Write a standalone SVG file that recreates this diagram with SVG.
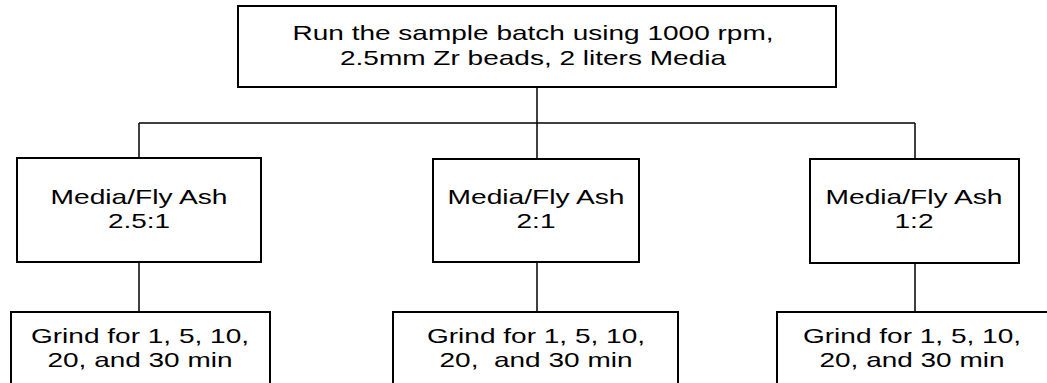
<svg xmlns="http://www.w3.org/2000/svg" width="1047" height="383" viewBox="0 0 1047 383">
<style>
.box{fill:#fff;stroke:#000;stroke-width:2}
.t{font-family:"Liberation Sans",Arial,sans-serif;font-size:21px;fill:#000;text-anchor:middle}
.c{fill:none;stroke:#000;stroke-width:1.5}
</style>
<rect width="1047" height="383" fill="#fff"/>
<g id="connectors">
<line class="c" x1="537" y1="87" x2="537" y2="159"/>
<line class="c" x1="139" y1="123" x2="915" y2="123"/>
<line class="c" x1="139" y1="123" x2="139" y2="158"/>
<line class="c" x1="915" y1="123" x2="915" y2="159"/>
<line class="c" x1="139" y1="262" x2="139" y2="312"/>
<line class="c" x1="537" y1="262" x2="537" y2="312"/>
<line class="c" x1="915" y1="263" x2="915" y2="312"/>
</g>
<g id="top">
<rect class="box" x="238" y="6" width="598" height="81"/>
<text class="t" x="533" y="40" textLength="481" lengthAdjust="spacingAndGlyphs">Run the sample batch using 1000 rpm,</text>
<text class="t" x="533" y="65" textLength="386" lengthAdjust="spacingAndGlyphs">2.5mm Zr beads, 2 liters Media</text>
</g>
<g id="ratio1">
<rect class="box" x="17" y="158" width="244" height="104"/>
<text class="t" x="139" y="204" textLength="177" lengthAdjust="spacingAndGlyphs">Media/Fly Ash</text>
<text class="t" x="139" y="228" textLength="62" lengthAdjust="spacingAndGlyphs">2.5:1</text>
</g>
<g id="ratio2">
<rect class="box" x="433" y="159" width="206" height="103"/>
<text class="t" x="536" y="204" textLength="177" lengthAdjust="spacingAndGlyphs">Media/Fly Ash</text>
<text class="t" x="536" y="228" textLength="39" lengthAdjust="spacingAndGlyphs">2:1</text>
</g>
<g id="ratio3">
<rect class="box" x="810" y="159" width="209" height="104"/>
<text class="t" x="914" y="204" textLength="177" lengthAdjust="spacingAndGlyphs">Media/Fly Ash</text>
<text class="t" x="914" y="228" textLength="39" lengthAdjust="spacingAndGlyphs">1:2</text>
</g>
<g id="grind1">
<rect class="box" x="11" y="312" width="259" height="90"/>
<text class="t" x="140" y="343" textLength="218" lengthAdjust="spacingAndGlyphs">Grind for 1, 5, 10,</text>
<text class="t" x="140" y="367" textLength="185" lengthAdjust="spacingAndGlyphs">20, and 30 min</text>
</g>
<g id="grind2">
<rect class="box" x="393" y="312" width="285" height="90"/>
<text class="t" x="536" y="343" textLength="218" lengthAdjust="spacingAndGlyphs">Grind for 1, 5, 10,</text>
<text class="t" x="536" y="367" textLength="193" lengthAdjust="spacingAndGlyphs" style="white-space:pre">20,  and 30 min</text>
</g>
<g id="grind3">
<rect class="box" x="777" y="312" width="280" height="90"/>
<text class="t" x="912" y="343" textLength="218" lengthAdjust="spacingAndGlyphs">Grind for 1, 5, 10,</text>
<text class="t" x="912" y="367" textLength="185" lengthAdjust="spacingAndGlyphs">20, and 30 min</text>
</g>
</svg>
